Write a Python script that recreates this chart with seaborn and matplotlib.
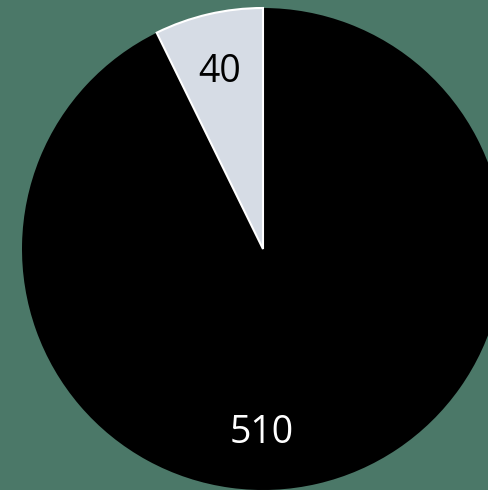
import matplotlib
matplotlib.use("Agg")
import matplotlib.pyplot as plt
import seaborn as sns

categories = ["B", "A"]
values = [40, 510]
colors = ["#D6DCE5", "#000000"]
label_colors = ["#000000", "#FFFFFF"]

sns.set_theme(style="white")
plt.rcParams['font.family'] = ['Open Sans', 'DejaVu Sans']

bg = "#4B7868"
W, H = 488, 490
fig = plt.figure(figsize=(W / 100, H / 100), dpi=100, facecolor=bg)
cx, cy, r = 263, 249, 241
ax = fig.add_axes([(cx - r) / W, (H - cy - r) / H, 2 * r / W, 2 * r / H])
ax.set_facecolor(bg)

wedges, _ = ax.pie(values, colors=colors, startangle=90, counterclock=True,
                   wedgeprops=dict(linewidth=0))
wedges[0].set_edgecolor("white")
wedges[0].set_linewidth(1.5)
wedges[0].set_zorder(3)
for w in wedges:
    w.set_clip_on(False)
ax.set_xlim(-1, 1)
ax.set_ylim(-1, 1)
ax.set_aspect("equal")
ax.axis("off")

label_pos = [(-0.178, 0.734), (-0.006, -0.763)]
for v, (x, y), c in zip(values, label_pos, label_colors):
    ax.text(x, y, str(v), ha="center", va="center", color=c, fontsize=27,
            zorder=5)

fig.savefig("out.png", dpi=100, facecolor=bg)
